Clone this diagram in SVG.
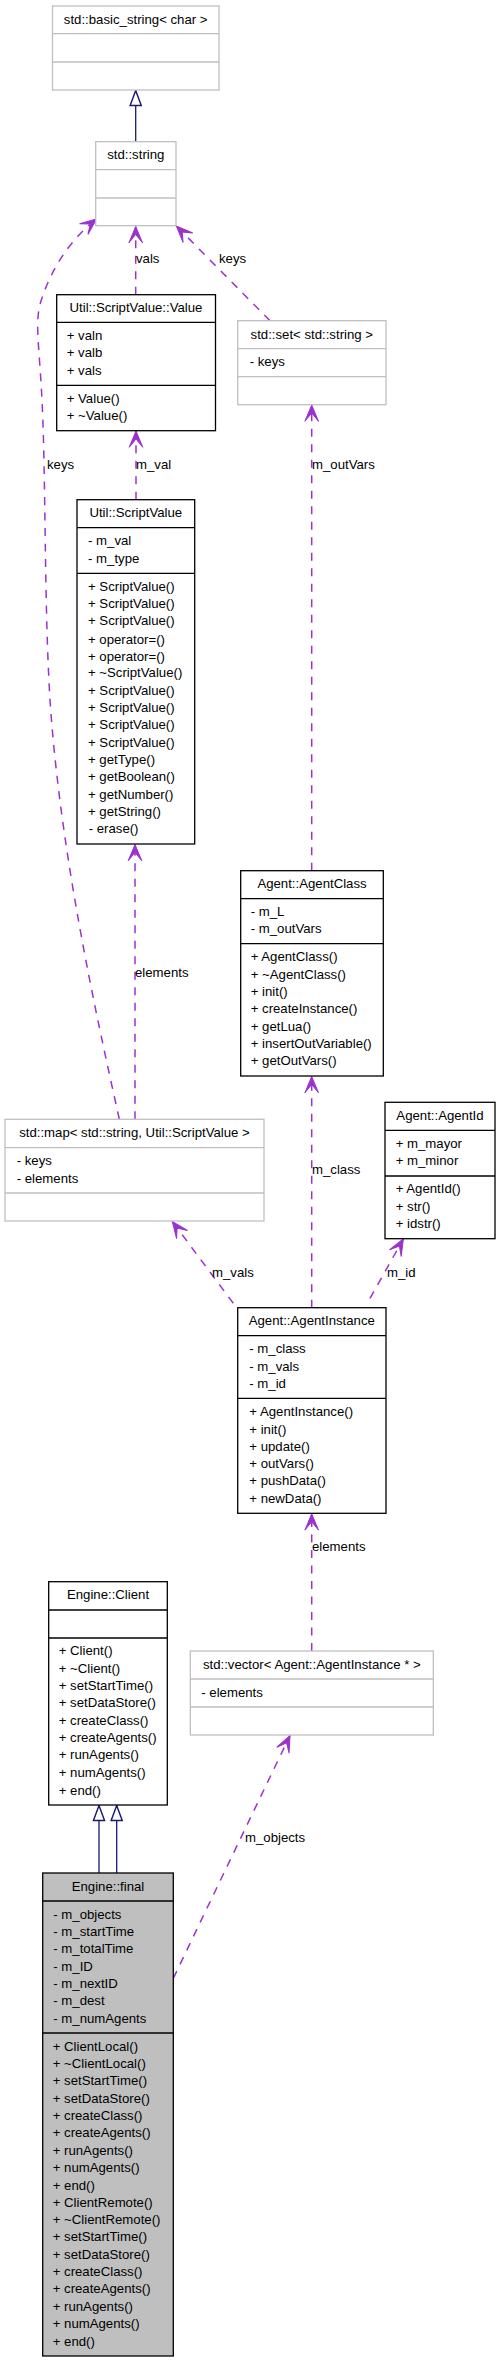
<svg xmlns="http://www.w3.org/2000/svg" width="500" height="2363" viewBox="0 0 500 2363">
<style>
text{font-family:"Liberation Sans",Arial,Helvetica,sans-serif;font-size:13.2px;fill:#000}
.t{text-anchor:middle}
.g rect,.g line{stroke:#bfbfbf;stroke-width:1.3;fill:#fff}
.b rect,.b line{stroke:#000;stroke-width:1.3;fill:#fff}
.f rect{fill:#bfbfbf}
.dep{fill:none;stroke:#9a32cd;stroke-width:1.5;stroke-dasharray:8,7.5;marker-end:url(#ah)}
.inh{fill:none;stroke:#191970;stroke-width:1.3;marker-end:url(#tri)}
</style>
<defs>
<marker id="ah" markerUnits="userSpaceOnUse" markerWidth="20" markerHeight="20" viewBox="-18 -10 20 20" refX="0" refY="0" orient="auto" overflow="visible">
<path d="M0,0 L-16.3,-6.8 L-8,0 L-16.3,6.8 Z" fill="#9a32cd" stroke="#9a32cd" stroke-width="1" stroke-dasharray="none"/>
</marker>
<marker id="tri" markerUnits="userSpaceOnUse" markerWidth="20" markerHeight="20" viewBox="-16 -8 18 16" refX="0" refY="0" orient="auto" overflow="visible">
<path d="M0,0 L-13.5,-5 L-13.5,5 Z" fill="#fff" stroke="#191970" stroke-width="1.3"/>
</marker>
</defs>
<rect width="500" height="2363" fill="#fff"/>

<g id="connectors">
<path class="inh" d="M135.7,141.7 L135.7,90.5"/>
<path class="dep" d="M135.7,294.7 L135.7,226.5"/>
<path class="dep" d="M270,320.7 L176.5,226.2"/>
<path class="dep" d="M119.3,1119 C95,1010 60,850 50,700 C44,600 46,480 42,400 C39,340 34,320 42,298 C52,268 70,240 96.5,219"/>
<path class="dep" d="M136,499.7 L136,431"/>
<path class="dep" d="M311.7,870.7 L311.7,405"/>
<path class="dep" d="M135,1119.3 L135,844.5"/>
<path class="dep" d="M311.7,1307.7 L311.7,1076.5"/>
<path class="dep" d="M233.3,1303.3 L172.3,1221.5"/>
<path class="dep" d="M370,1298.3 L403.3,1239"/>
<path class="dep" d="M311.7,1651 L311.7,1513.8"/>
<path class="dep" d="M173.3,1978.3 L290,1735.5"/>
<path class="inh" d="M99,1873 L99,1805.5"/>
<path class="inh" d="M116.7,1873 L116.7,1805.5"/>
<text x="136" y="263">vals</text>
<text x="219" y="263">keys</text>
<text x="47" y="469">keys</text>
<text x="136" y="469">m_val</text>
<text x="312" y="469">m_outVars</text>
<text x="135" y="977">elements</text>
<text x="312" y="1174">m_class</text>
<text x="212" y="1277">m_vals</text>
<text x="387" y="1277">m_id</text>
<text x="312" y="1551">elements</text>
<text x="245" y="1842">m_objects</text>
</g>

<g id="basic_string" class="g">
<rect x="52.5" y="6" width="166.5" height="84"/>
<line x1="52.5" y1="33.7" x2="219" y2="33.7"/>
<line x1="52.5" y1="62" x2="219" y2="62"/>
<text class="t" x="135.7" y="23.5">std::basic_string&lt; char &gt;</text>
</g>

<g id="std_string" class="g">
<rect x="95.7" y="141.7" width="80.3" height="84"/>
<line x1="95.7" y1="169.7" x2="176" y2="169.7"/>
<line x1="95.7" y1="198" x2="176" y2="198"/>
<text class="t" x="135.8" y="159">std::string</text>
</g>

<g id="script_value_value" class="b">
<rect x="56.7" y="294.7" width="158.8" height="136"/>
<line x1="56.7" y1="322.3" x2="215.5" y2="322.3"/>
<line x1="56.7" y1="385.3" x2="215.5" y2="385.3"/>
<text class="t" x="136" y="312">Util::ScriptValue::Value</text>
<text x="66.7" y="340.3">+ valn</text>
<text x="66.7" y="357.3">+ valb</text>
<text x="66.7" y="375.3">+ vals</text>
<text x="66.7" y="403">+ Value()</text>
<text x="66.7" y="420.3">+ ~Value()</text>
</g>

<g id="std_set" class="g">
<rect x="237.7" y="320.7" width="148.3" height="84"/>
<line x1="237.7" y1="348.7" x2="386" y2="348.7"/>
<line x1="237.7" y1="376.7" x2="386" y2="376.7"/>
<text class="t" x="311.8" y="338.5">std::set&lt; std::string &gt;</text>
<text x="249.7" y="366.3">- keys</text>
</g>

<g id="script_value" class="b">
<rect x="77" y="499.7" width="117.7" height="344.3"/>
<line x1="77" y1="527.7" x2="194.7" y2="527.7"/>
<line x1="77" y1="573.3" x2="194.7" y2="573.3"/>
<text class="t" x="135.8" y="517">Util::ScriptValue</text>
<text x="88" y="545.3">- m_val</text>
<text x="88" y="563">- m_type</text>
<text x="88" y="591.4">+ ScriptValue()</text>
<text x="88" y="608.4">+ ScriptValue()</text>
<text x="88" y="625.4">+ ScriptValue()</text>
<text x="88" y="643.7">+ operator=()</text>
<text x="88" y="660.7">+ operator=()</text>
<text x="88" y="677.4">+ ~ScriptValue()</text>
<text x="88" y="695">+ ScriptValue()</text>
<text x="88" y="712">+ ScriptValue()</text>
<text x="88" y="729">+ ScriptValue()</text>
<text x="88" y="747">+ ScriptValue()</text>
<text x="88" y="764">+ getType()</text>
<text x="88" y="781.4">+ getBoolean()</text>
<text x="88" y="799">+ getNumber()</text>
<text x="88" y="816.4">+ getString()</text>
<text x="88.7" y="833">- erase()</text>
</g>

<g id="agent_class" class="b">
<rect x="240.7" y="870.7" width="142.6" height="205.3"/>
<line x1="240.7" y1="898.7" x2="383.3" y2="898.7"/>
<line x1="240.7" y1="943.7" x2="383.3" y2="943.7"/>
<text class="t" x="312" y="888">Agent::AgentClass</text>
<text x="250.7" y="916">- m_L</text>
<text x="250.7" y="933.4">- m_outVars</text>
<text x="250.7" y="961.4">+ AgentClass()</text>
<text x="250.7" y="979.4">+ ~AgentClass()</text>
<text x="250.7" y="996.4">+ init()</text>
<text x="250.7" y="1013.4">+ createInstance()</text>
<text x="250.7" y="1031.4">+ getLua()</text>
<text x="250.7" y="1048">+ insertOutVariable()</text>
<text x="250.7" y="1065.4">+ getOutVars()</text>
</g>

<g id="agent_id" class="b">
<rect x="385" y="1102.3" width="110" height="136.4"/>
<line x1="385" y1="1130.3" x2="495" y2="1130.3"/>
<line x1="385" y1="1176" x2="495" y2="1176"/>
<text class="t" x="440" y="1120">Agent::AgentId</text>
<text x="395.7" y="1148.4">+ m_mayor</text>
<text x="395.7" y="1165.4">+ m_minor</text>
<text x="395.7" y="1193.4">+ AgentId()</text>
<text x="395.7" y="1211.4">+ str()</text>
<text x="395.7" y="1228.4">+ idstr()</text>
</g>

<g id="std_map" class="g">
<rect x="5" y="1119.3" width="259" height="101.7"/>
<line x1="5" y1="1147.7" x2="264" y2="1147.7"/>
<line x1="5" y1="1193" x2="264" y2="1193"/>
<text class="t" x="134.5" y="1137">std::map&lt; std::string, Util::ScriptValue &gt;</text>
<text x="16.7" y="1165.4">- keys</text>
<text x="16.7" y="1183.4">- elements</text>
</g>

<g id="agent_instance" class="b">
<rect x="237.7" y="1307.7" width="148.3" height="205.6"/>
<line x1="237.7" y1="1335.7" x2="386" y2="1335.7"/>
<line x1="237.7" y1="1398.3" x2="386" y2="1398.3"/>
<text class="t" x="311.8" y="1325">Agent::AgentInstance</text>
<text x="249.3" y="1353.4">- m_class</text>
<text x="249.3" y="1371.4">- m_vals</text>
<text x="249.3" y="1388.4">- m_id</text>
<text x="249.3" y="1416.4">+ AgentInstance()</text>
<text x="249.3" y="1433.7">+ init()</text>
<text x="249.3" y="1451.4">+ update()</text>
<text x="249.3" y="1468.4">+ outVars()</text>
<text x="249.3" y="1485.4">+ pushData()</text>
<text x="249.3" y="1503.4">+ newData()</text>
</g>

<g id="engine_client" class="b">
<rect x="48.7" y="1581.7" width="118.6" height="223.3"/>
<line x1="48.7" y1="1610" x2="167.3" y2="1610"/>
<line x1="48.7" y1="1638" x2="167.3" y2="1638"/>
<text class="t" x="108" y="1599">Engine::Client</text>
<text x="58.7" y="1655.4">+ Client()</text>
<text x="58.7" y="1673">+ ~Client()</text>
<text x="58.7" y="1690.4">+ setStartTime()</text>
<text x="58.7" y="1707.4">+ setDataStore()</text>
<text x="58.7" y="1725.4">+ createClass()</text>
<text x="58.7" y="1742.4">+ createAgents()</text>
<text x="58.7" y="1759.4">+ runAgents()</text>
<text x="58.7" y="1777.4">+ numAgents()</text>
<text x="58.7" y="1794.7">+ end()</text>
</g>

<g id="std_vector" class="g">
<rect x="190.3" y="1651" width="243" height="84"/>
<line x1="190.3" y1="1679" x2="433.3" y2="1679"/>
<line x1="190.3" y1="1707" x2="433.3" y2="1707"/>
<text class="t" x="311.8" y="1669">std::vector&lt; Agent::AgentInstance * &gt;</text>
<text x="201.3" y="1697.4">- elements</text>
</g>

<g id="engine_final" class="b f">
<rect x="42.7" y="1873" width="130.6" height="483"/>
<line x1="42.7" y1="1901" x2="173.3" y2="1901"/>
<line x1="42.7" y1="2033" x2="173.3" y2="2033"/>
<text class="t" x="108" y="1891">Engine::final</text>
<text x="53.3" y="1919.4">- m_objects</text>
<text x="53.3" y="1936.4">- m_startTime</text>
<text x="53.3" y="1953.4">- m_totalTime</text>
<text x="53.3" y="1971">- m_ID</text>
<text x="53.3" y="1988.4">- m_nextID</text>
<text x="53.3" y="2005.4">- m_dest</text>
<text x="53.3" y="2023.4">- m_numAgents</text>
<text x="52.7" y="2051.4">+ ClientLocal()</text>
<text x="52.7" y="2068.4">+ ~ClientLocal()</text>
<text x="52.7" y="2085.4">+ setStartTime()</text>
<text x="52.7" y="2103">+ setDataStore()</text>
<text x="52.7" y="2120.4">+ createClass()</text>
<text x="52.7" y="2137.4">+ createAgents()</text>
<text x="52.7" y="2155.4">+ runAgents()</text>
<text x="52.7" y="2172.4">+ numAgents()</text>
<text x="52.7" y="2189.7">+ end()</text>
<text x="52.7" y="2207.4">+ ClientRemote()</text>
<text x="52.7" y="2224.4">+ ~ClientRemote()</text>
<text x="52.7" y="2241.4">+ setStartTime()</text>
<text x="52.7" y="2259.4">+ setDataStore()</text>
<text x="52.7" y="2276.4">+ createClass()</text>
<text x="52.7" y="2293.4">+ createAgents()</text>
<text x="52.7" y="2311.4">+ runAgents()</text>
<text x="52.7" y="2328.4">+ numAgents()</text>
<text x="52.7" y="2345.7">+ end()</text>
</g>
</svg>
